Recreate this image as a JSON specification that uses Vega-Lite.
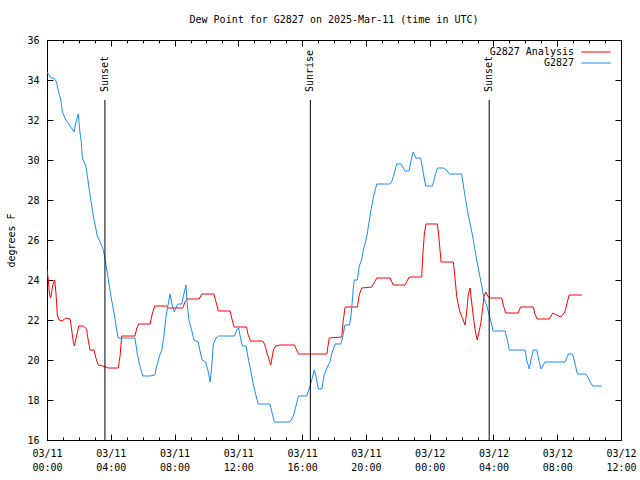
{
  "$schema": "https://vega.github.io/schema/vega-lite/v6.json",
  "width": 574,
  "height": 400,
  "autosize": {"type": "none"},
  "padding": {"left": 47, "top": 40, "right": 19, "bottom": 40},
  "background": "white",
  "config": {
    "font": "DejaVu Sans Mono",
    "view": {"stroke": "black", "strokeWidth": 1},
    "axis": {"labelFont": "DejaVu Sans Mono", "titleFont": "DejaVu Sans Mono", "labelFontSize": 10, "titleFontSize": 10, "titleFontWeight": "normal", "labelColor": "black", "titleColor": "black", "tickColor": "black", "grid": false, "domain": false},
    "legend": {"labelFont": "DejaVu Sans Mono", "labelFontSize": 10, "labelColor": "black"}
  },
  "title": {"text": "Dew Point for G2827 on 2025-Mar-11 (time in UTC)", "fontSize": 10, "fontWeight": "normal", "font": "DejaVu Sans Mono", "color": "black", "offset": 10},
  "data": {"values": [
      {"series": "G2827 Analysis", "time": "2025-03-11T00:00:00Z", "value": 24.5},
      {"series": "G2827 Analysis", "time": "2025-03-11T00:05:00Z", "value": 24.0},
      {"series": "G2827 Analysis", "time": "2025-03-11T00:09:00Z", "value": 23.3},
      {"series": "G2827 Analysis", "time": "2025-03-11T00:14:00Z", "value": 23.1},
      {"series": "G2827 Analysis", "time": "2025-03-11T00:21:00Z", "value": 23.7},
      {"series": "G2827 Analysis", "time": "2025-03-11T00:29:00Z", "value": 24.0},
      {"series": "G2827 Analysis", "time": "2025-03-11T00:34:00Z", "value": 23.3},
      {"series": "G2827 Analysis", "time": "2025-03-11T00:39:00Z", "value": 22.25},
      {"series": "G2827 Analysis", "time": "2025-03-11T00:46:00Z", "value": 22.0},
      {"series": "G2827 Analysis", "time": "2025-03-11T00:56:00Z", "value": 21.95},
      {"series": "G2827 Analysis", "time": "2025-03-11T01:11:00Z", "value": 22.1},
      {"series": "G2827 Analysis", "time": "2025-03-11T01:27:00Z", "value": 22.05},
      {"series": "G2827 Analysis", "time": "2025-03-11T01:33:00Z", "value": 21.5},
      {"series": "G2827 Analysis", "time": "2025-03-11T01:39:00Z", "value": 20.9},
      {"series": "G2827 Analysis", "time": "2025-03-11T01:43:00Z", "value": 20.7},
      {"series": "G2827 Analysis", "time": "2025-03-11T01:52:00Z", "value": 21.25},
      {"series": "G2827 Analysis", "time": "2025-03-11T02:00:00Z", "value": 21.7},
      {"series": "G2827 Analysis", "time": "2025-03-11T02:17:00Z", "value": 21.7},
      {"series": "G2827 Analysis", "time": "2025-03-11T02:29:00Z", "value": 21.55},
      {"series": "G2827 Analysis", "time": "2025-03-11T02:35:00Z", "value": 21.0},
      {"series": "G2827 Analysis", "time": "2025-03-11T02:42:00Z", "value": 20.5},
      {"series": "G2827 Analysis", "time": "2025-03-11T02:57:00Z", "value": 20.5},
      {"series": "G2827 Analysis", "time": "2025-03-11T03:04:00Z", "value": 20.1},
      {"series": "G2827 Analysis", "time": "2025-03-11T03:13:00Z", "value": 19.75},
      {"series": "G2827 Analysis", "time": "2025-03-11T03:30:00Z", "value": 19.7},
      {"series": "G2827 Analysis", "time": "2025-03-11T03:51:00Z", "value": 19.6},
      {"series": "G2827 Analysis", "time": "2025-03-11T04:28:00Z", "value": 19.6},
      {"series": "G2827 Analysis", "time": "2025-03-11T04:35:00Z", "value": 20.2},
      {"series": "G2827 Analysis", "time": "2025-03-11T04:41:00Z", "value": 21.2},
      {"series": "G2827 Analysis", "time": "2025-03-11T05:31:00Z", "value": 21.2},
      {"series": "G2827 Analysis", "time": "2025-03-11T05:38:00Z", "value": 21.6},
      {"series": "G2827 Analysis", "time": "2025-03-11T05:45:00Z", "value": 21.8},
      {"series": "G2827 Analysis", "time": "2025-03-11T06:28:00Z", "value": 21.8},
      {"series": "G2827 Analysis", "time": "2025-03-11T06:36:00Z", "value": 22.3},
      {"series": "G2827 Analysis", "time": "2025-03-11T06:45:00Z", "value": 22.7},
      {"series": "G2827 Analysis", "time": "2025-03-11T07:30:00Z", "value": 22.7},
      {"series": "G2827 Analysis", "time": "2025-03-11T07:36:00Z", "value": 22.6},
      {"series": "G2827 Analysis", "time": "2025-03-11T08:31:00Z", "value": 22.6},
      {"series": "G2827 Analysis", "time": "2025-03-11T08:39:00Z", "value": 22.9},
      {"series": "G2827 Analysis", "time": "2025-03-11T08:48:00Z", "value": 23.05},
      {"series": "G2827 Analysis", "time": "2025-03-11T09:33:00Z", "value": 23.05},
      {"series": "G2827 Analysis", "time": "2025-03-11T09:42:00Z", "value": 23.3},
      {"series": "G2827 Analysis", "time": "2025-03-11T10:28:00Z", "value": 23.3},
      {"series": "G2827 Analysis", "time": "2025-03-11T10:36:00Z", "value": 22.9},
      {"series": "G2827 Analysis", "time": "2025-03-11T10:45:00Z", "value": 22.45},
      {"series": "G2827 Analysis", "time": "2025-03-11T11:29:00Z", "value": 22.45},
      {"series": "G2827 Analysis", "time": "2025-03-11T11:35:00Z", "value": 22.1},
      {"series": "G2827 Analysis", "time": "2025-03-11T11:44:00Z", "value": 21.65},
      {"series": "G2827 Analysis", "time": "2025-03-11T12:31:00Z", "value": 21.65},
      {"series": "G2827 Analysis", "time": "2025-03-11T12:37:00Z", "value": 21.25},
      {"series": "G2827 Analysis", "time": "2025-03-11T12:46:00Z", "value": 20.95},
      {"series": "G2827 Analysis", "time": "2025-03-11T13:32:00Z", "value": 20.95},
      {"series": "G2827 Analysis", "time": "2025-03-11T13:40:00Z", "value": 20.75},
      {"series": "G2827 Analysis", "time": "2025-03-11T13:49:00Z", "value": 20.3},
      {"series": "G2827 Analysis", "time": "2025-03-11T14:02:00Z", "value": 19.75},
      {"series": "G2827 Analysis", "time": "2025-03-11T14:12:00Z", "value": 20.5},
      {"series": "G2827 Analysis", "time": "2025-03-11T14:21:00Z", "value": 20.7},
      {"series": "G2827 Analysis", "time": "2025-03-11T14:37:00Z", "value": 20.75},
      {"series": "G2827 Analysis", "time": "2025-03-11T15:31:00Z", "value": 20.75},
      {"series": "G2827 Analysis", "time": "2025-03-11T15:46:00Z", "value": 20.3},
      {"series": "G2827 Analysis", "time": "2025-03-11T17:33:00Z", "value": 20.3},
      {"series": "G2827 Analysis", "time": "2025-03-11T17:42:00Z", "value": 21.1},
      {"series": "G2827 Analysis", "time": "2025-03-11T18:29:00Z", "value": 21.15},
      {"series": "G2827 Analysis", "time": "2025-03-11T18:35:00Z", "value": 22.0},
      {"series": "G2827 Analysis", "time": "2025-03-11T18:42:00Z", "value": 22.65},
      {"series": "G2827 Analysis", "time": "2025-03-11T19:28:00Z", "value": 22.65},
      {"series": "G2827 Analysis", "time": "2025-03-11T19:35:00Z", "value": 23.25},
      {"series": "G2827 Analysis", "time": "2025-03-11T19:44:00Z", "value": 23.6},
      {"series": "G2827 Analysis", "time": "2025-03-11T20:22:00Z", "value": 23.65},
      {"series": "G2827 Analysis", "time": "2025-03-11T20:41:00Z", "value": 24.1},
      {"series": "G2827 Analysis", "time": "2025-03-11T21:31:00Z", "value": 24.1},
      {"series": "G2827 Analysis", "time": "2025-03-11T21:43:00Z", "value": 23.75},
      {"series": "G2827 Analysis", "time": "2025-03-11T22:27:00Z", "value": 23.75},
      {"series": "G2827 Analysis", "time": "2025-03-11T22:43:00Z", "value": 24.15},
      {"series": "G2827 Analysis", "time": "2025-03-11T23:30:00Z", "value": 24.15},
      {"series": "G2827 Analysis", "time": "2025-03-11T23:34:00Z", "value": 25.2},
      {"series": "G2827 Analysis", "time": "2025-03-11T23:40:00Z", "value": 26.3},
      {"series": "G2827 Analysis", "time": "2025-03-11T23:46:00Z", "value": 26.8},
      {"series": "G2827 Analysis", "time": "2025-03-12T00:29:00Z", "value": 26.8},
      {"series": "G2827 Analysis", "time": "2025-03-12T00:35:00Z", "value": 26.1},
      {"series": "G2827 Analysis", "time": "2025-03-12T00:43:00Z", "value": 24.9},
      {"series": "G2827 Analysis", "time": "2025-03-12T01:29:00Z", "value": 24.9},
      {"series": "G2827 Analysis", "time": "2025-03-12T01:35:00Z", "value": 24.15},
      {"series": "G2827 Analysis", "time": "2025-03-12T01:42:00Z", "value": 23.15},
      {"series": "G2827 Analysis", "time": "2025-03-12T01:48:00Z", "value": 22.75},
      {"series": "G2827 Analysis", "time": "2025-03-12T01:54:00Z", "value": 22.4},
      {"series": "G2827 Analysis", "time": "2025-03-12T02:03:00Z", "value": 22.1},
      {"series": "G2827 Analysis", "time": "2025-03-12T02:13:00Z", "value": 21.75},
      {"series": "G2827 Analysis", "time": "2025-03-12T02:19:00Z", "value": 22.35},
      {"series": "G2827 Analysis", "time": "2025-03-12T02:25:00Z", "value": 23.25},
      {"series": "G2827 Analysis", "time": "2025-03-12T02:32:00Z", "value": 23.6},
      {"series": "G2827 Analysis", "time": "2025-03-12T02:38:00Z", "value": 22.9},
      {"series": "G2827 Analysis", "time": "2025-03-12T02:44:00Z", "value": 22.2},
      {"series": "G2827 Analysis", "time": "2025-03-12T02:51:00Z", "value": 21.5},
      {"series": "G2827 Analysis", "time": "2025-03-12T02:59:00Z", "value": 21.0},
      {"series": "G2827 Analysis", "time": "2025-03-12T03:07:00Z", "value": 21.5},
      {"series": "G2827 Analysis", "time": "2025-03-12T03:12:00Z", "value": 21.8},
      {"series": "G2827 Analysis", "time": "2025-03-12T03:20:00Z", "value": 22.65},
      {"series": "G2827 Analysis", "time": "2025-03-12T03:24:00Z", "value": 23.15},
      {"series": "G2827 Analysis", "time": "2025-03-12T03:31:00Z", "value": 23.4},
      {"series": "G2827 Analysis", "time": "2025-03-12T03:41:00Z", "value": 23.15},
      {"series": "G2827 Analysis", "time": "2025-03-12T03:47:00Z", "value": 23.1},
      {"series": "G2827 Analysis", "time": "2025-03-12T04:31:00Z", "value": 23.1},
      {"series": "G2827 Analysis", "time": "2025-03-12T04:37:00Z", "value": 22.75},
      {"series": "G2827 Analysis", "time": "2025-03-12T04:46:00Z", "value": 22.35},
      {"series": "G2827 Analysis", "time": "2025-03-12T05:33:00Z", "value": 22.35},
      {"series": "G2827 Analysis", "time": "2025-03-12T05:42:00Z", "value": 22.65},
      {"series": "G2827 Analysis", "time": "2025-03-12T06:30:00Z", "value": 22.65},
      {"series": "G2827 Analysis", "time": "2025-03-12T06:36:00Z", "value": 22.3},
      {"series": "G2827 Analysis", "time": "2025-03-12T06:45:00Z", "value": 22.05},
      {"series": "G2827 Analysis", "time": "2025-03-12T07:30:00Z", "value": 22.05},
      {"series": "G2827 Analysis", "time": "2025-03-12T07:43:00Z", "value": 22.35},
      {"series": "G2827 Analysis", "time": "2025-03-12T07:58:00Z", "value": 22.25},
      {"series": "G2827 Analysis", "time": "2025-03-12T08:14:00Z", "value": 22.15},
      {"series": "G2827 Analysis", "time": "2025-03-12T08:29:00Z", "value": 22.4},
      {"series": "G2827 Analysis", "time": "2025-03-12T08:38:00Z", "value": 22.9},
      {"series": "G2827 Analysis", "time": "2025-03-12T08:45:00Z", "value": 23.25},
      {"series": "G2827 Analysis", "time": "2025-03-12T09:32:00Z", "value": 23.25},
      {"series": "G2827", "time": "2025-03-11T00:00:00Z", "value": 34.4},
      {"series": "G2827", "time": "2025-03-11T00:15:00Z", "value": 34.1},
      {"series": "G2827", "time": "2025-03-11T00:26:00Z", "value": 34.1},
      {"series": "G2827", "time": "2025-03-11T00:36:00Z", "value": 33.9},
      {"series": "G2827", "time": "2025-03-11T00:42:00Z", "value": 33.5},
      {"series": "G2827", "time": "2025-03-11T00:52:00Z", "value": 33.0},
      {"series": "G2827", "time": "2025-03-11T00:58:00Z", "value": 32.4},
      {"series": "G2827", "time": "2025-03-11T01:11:00Z", "value": 32.0},
      {"series": "G2827", "time": "2025-03-11T01:27:00Z", "value": 31.7},
      {"series": "G2827", "time": "2025-03-11T01:42:00Z", "value": 31.4},
      {"series": "G2827", "time": "2025-03-11T01:49:00Z", "value": 31.9},
      {"series": "G2827", "time": "2025-03-11T01:58:00Z", "value": 32.3},
      {"series": "G2827", "time": "2025-03-11T02:03:00Z", "value": 31.5},
      {"series": "G2827", "time": "2025-03-11T02:09:00Z", "value": 30.9},
      {"series": "G2827", "time": "2025-03-11T02:13:00Z", "value": 30.1},
      {"series": "G2827", "time": "2025-03-11T02:26:00Z", "value": 29.7},
      {"series": "G2827", "time": "2025-03-11T02:33:00Z", "value": 29.1},
      {"series": "G2827", "time": "2025-03-11T02:39:00Z", "value": 28.5},
      {"series": "G2827", "time": "2025-03-11T02:48:00Z", "value": 27.75},
      {"series": "G2827", "time": "2025-03-11T02:54:00Z", "value": 27.2},
      {"series": "G2827", "time": "2025-03-11T03:02:00Z", "value": 26.7},
      {"series": "G2827", "time": "2025-03-11T03:09:00Z", "value": 26.2},
      {"series": "G2827", "time": "2025-03-11T03:17:00Z", "value": 26.0},
      {"series": "G2827", "time": "2025-03-11T03:32:00Z", "value": 25.5},
      {"series": "G2827", "time": "2025-03-11T03:39:00Z", "value": 25.0},
      {"series": "G2827", "time": "2025-03-11T03:45:00Z", "value": 24.5},
      {"series": "G2827", "time": "2025-03-11T03:51:00Z", "value": 24.0},
      {"series": "G2827", "time": "2025-03-11T03:57:00Z", "value": 23.5},
      {"series": "G2827", "time": "2025-03-11T04:03:00Z", "value": 23.0},
      {"series": "G2827", "time": "2025-03-11T04:12:00Z", "value": 22.4},
      {"series": "G2827", "time": "2025-03-11T04:20:00Z", "value": 21.7},
      {"series": "G2827", "time": "2025-03-11T04:28:00Z", "value": 21.1},
      {"series": "G2827", "time": "2025-03-11T05:31:00Z", "value": 21.1},
      {"series": "G2827", "time": "2025-03-11T05:40:00Z", "value": 20.3},
      {"series": "G2827", "time": "2025-03-11T05:50:00Z", "value": 19.7},
      {"series": "G2827", "time": "2025-03-11T06:00:00Z", "value": 19.2},
      {"series": "G2827", "time": "2025-03-11T06:28:00Z", "value": 19.2},
      {"series": "G2827", "time": "2025-03-11T06:46:00Z", "value": 19.25},
      {"series": "G2827", "time": "2025-03-11T06:53:00Z", "value": 19.7},
      {"series": "G2827", "time": "2025-03-11T07:03:00Z", "value": 20.2},
      {"series": "G2827", "time": "2025-03-11T07:12:00Z", "value": 20.5},
      {"series": "G2827", "time": "2025-03-11T07:20:00Z", "value": 21.2},
      {"series": "G2827", "time": "2025-03-11T07:28:00Z", "value": 22.2},
      {"series": "G2827", "time": "2025-03-11T07:36:00Z", "value": 22.8},
      {"series": "G2827", "time": "2025-03-11T07:43:00Z", "value": 23.3},
      {"series": "G2827", "time": "2025-03-11T07:50:00Z", "value": 22.8},
      {"series": "G2827", "time": "2025-03-11T07:59:00Z", "value": 22.4},
      {"series": "G2827", "time": "2025-03-11T08:08:00Z", "value": 22.7},
      {"series": "G2827", "time": "2025-03-11T08:14:00Z", "value": 22.8},
      {"series": "G2827", "time": "2025-03-11T08:27:00Z", "value": 22.8},
      {"series": "G2827", "time": "2025-03-11T08:35:00Z", "value": 23.3},
      {"series": "G2827", "time": "2025-03-11T08:43:00Z", "value": 23.75},
      {"series": "G2827", "time": "2025-03-11T08:47:00Z", "value": 22.9},
      {"series": "G2827", "time": "2025-03-11T08:54:00Z", "value": 22.0},
      {"series": "G2827", "time": "2025-03-11T09:04:00Z", "value": 21.5},
      {"series": "G2827", "time": "2025-03-11T09:13:00Z", "value": 21.0},
      {"series": "G2827", "time": "2025-03-11T09:29:00Z", "value": 20.9},
      {"series": "G2827", "time": "2025-03-11T09:38:00Z", "value": 20.3},
      {"series": "G2827", "time": "2025-03-11T09:44:00Z", "value": 20.0},
      {"series": "G2827", "time": "2025-03-11T09:57:00Z", "value": 19.9},
      {"series": "G2827", "time": "2025-03-11T10:07:00Z", "value": 19.4},
      {"series": "G2827", "time": "2025-03-11T10:14:00Z", "value": 18.9},
      {"series": "G2827", "time": "2025-03-11T10:20:00Z", "value": 19.7},
      {"series": "G2827", "time": "2025-03-11T10:26:00Z", "value": 20.8},
      {"series": "G2827", "time": "2025-03-11T10:36:00Z", "value": 21.1},
      {"series": "G2827", "time": "2025-03-11T10:45:00Z", "value": 21.2},
      {"series": "G2827", "time": "2025-03-11T11:45:00Z", "value": 21.2},
      {"series": "G2827", "time": "2025-03-11T11:54:00Z", "value": 21.5},
      {"series": "G2827", "time": "2025-03-11T12:01:00Z", "value": 21.6},
      {"series": "G2827", "time": "2025-03-11T12:06:00Z", "value": 21.25},
      {"series": "G2827", "time": "2025-03-11T12:15:00Z", "value": 20.7},
      {"series": "G2827", "time": "2025-03-11T12:29:00Z", "value": 20.7},
      {"series": "G2827", "time": "2025-03-11T12:37:00Z", "value": 20.1},
      {"series": "G2827", "time": "2025-03-11T12:46:00Z", "value": 19.5},
      {"series": "G2827", "time": "2025-03-11T12:56:00Z", "value": 18.8},
      {"series": "G2827", "time": "2025-03-11T13:06:00Z", "value": 18.25},
      {"series": "G2827", "time": "2025-03-11T13:15:00Z", "value": 17.8},
      {"series": "G2827", "time": "2025-03-11T13:59:00Z", "value": 17.8},
      {"series": "G2827", "time": "2025-03-11T14:08:00Z", "value": 17.3},
      {"series": "G2827", "time": "2025-03-11T14:15:00Z", "value": 16.9},
      {"series": "G2827", "time": "2025-03-11T15:14:00Z", "value": 16.9},
      {"series": "G2827", "time": "2025-03-11T15:27:00Z", "value": 17.2},
      {"series": "G2827", "time": "2025-03-11T15:37:00Z", "value": 17.7},
      {"series": "G2827", "time": "2025-03-11T15:46:00Z", "value": 18.2},
      {"series": "G2827", "time": "2025-03-11T16:17:00Z", "value": 18.2},
      {"series": "G2827", "time": "2025-03-11T16:30:00Z", "value": 18.7},
      {"series": "G2827", "time": "2025-03-11T16:40:00Z", "value": 19.2},
      {"series": "G2827", "time": "2025-03-11T16:46:00Z", "value": 19.5},
      {"series": "G2827", "time": "2025-03-11T16:55:00Z", "value": 19.0},
      {"series": "G2827", "time": "2025-03-11T17:01:00Z", "value": 18.55},
      {"series": "G2827", "time": "2025-03-11T17:14:00Z", "value": 18.55},
      {"series": "G2827", "time": "2025-03-11T17:22:00Z", "value": 19.2},
      {"series": "G2827", "time": "2025-03-11T17:33:00Z", "value": 19.6},
      {"series": "G2827", "time": "2025-03-11T17:45:00Z", "value": 19.9},
      {"series": "G2827", "time": "2025-03-11T17:51:00Z", "value": 20.3},
      {"series": "G2827", "time": "2025-03-11T18:04:00Z", "value": 20.8},
      {"series": "G2827", "time": "2025-03-11T18:26:00Z", "value": 20.8},
      {"series": "G2827", "time": "2025-03-11T18:35:00Z", "value": 21.3},
      {"series": "G2827", "time": "2025-03-11T18:41:00Z", "value": 21.75},
      {"series": "G2827", "time": "2025-03-11T18:58:00Z", "value": 21.75},
      {"series": "G2827", "time": "2025-03-11T19:03:00Z", "value": 22.1},
      {"series": "G2827", "time": "2025-03-11T19:08:00Z", "value": 22.8},
      {"series": "G2827", "time": "2025-03-11T19:12:00Z", "value": 23.5},
      {"series": "G2827", "time": "2025-03-11T19:16:00Z", "value": 24.0},
      {"series": "G2827", "time": "2025-03-11T19:28:00Z", "value": 24.0},
      {"series": "G2827", "time": "2025-03-11T19:35:00Z", "value": 24.7},
      {"series": "G2827", "time": "2025-03-11T19:44:00Z", "value": 25.0},
      {"series": "G2827", "time": "2025-03-11T19:50:00Z", "value": 25.5},
      {"series": "G2827", "time": "2025-03-11T19:59:00Z", "value": 25.9},
      {"series": "G2827", "time": "2025-03-11T20:05:00Z", "value": 26.3},
      {"series": "G2827", "time": "2025-03-11T20:13:00Z", "value": 27.0},
      {"series": "G2827", "time": "2025-03-11T20:22:00Z", "value": 27.7},
      {"series": "G2827", "time": "2025-03-11T20:30:00Z", "value": 28.25},
      {"series": "G2827", "time": "2025-03-11T20:41:00Z", "value": 28.8},
      {"series": "G2827", "time": "2025-03-11T21:31:00Z", "value": 28.8},
      {"series": "G2827", "time": "2025-03-11T21:37:00Z", "value": 28.9},
      {"series": "G2827", "time": "2025-03-11T21:46:00Z", "value": 29.3},
      {"series": "G2827", "time": "2025-03-11T21:56:00Z", "value": 29.8},
      {"series": "G2827", "time": "2025-03-11T22:12:00Z", "value": 29.8},
      {"series": "G2827", "time": "2025-03-11T22:27:00Z", "value": 29.45},
      {"series": "G2827", "time": "2025-03-11T22:42:00Z", "value": 29.45},
      {"series": "G2827", "time": "2025-03-11T22:52:00Z", "value": 30.1},
      {"series": "G2827", "time": "2025-03-11T22:58:00Z", "value": 30.4},
      {"series": "G2827", "time": "2025-03-11T23:08:00Z", "value": 30.1},
      {"series": "G2827", "time": "2025-03-11T23:26:00Z", "value": 30.1},
      {"series": "G2827", "time": "2025-03-11T23:34:00Z", "value": 29.5},
      {"series": "G2827", "time": "2025-03-11T23:45:00Z", "value": 28.7},
      {"series": "G2827", "time": "2025-03-12T00:11:00Z", "value": 28.7},
      {"series": "G2827", "time": "2025-03-12T00:20:00Z", "value": 29.2},
      {"series": "G2827", "time": "2025-03-12T00:29:00Z", "value": 29.6},
      {"series": "G2827", "time": "2025-03-12T00:51:00Z", "value": 29.6},
      {"series": "G2827", "time": "2025-03-12T01:04:00Z", "value": 29.5},
      {"series": "G2827", "time": "2025-03-12T01:14:00Z", "value": 29.3},
      {"series": "G2827", "time": "2025-03-12T02:00:00Z", "value": 29.3},
      {"series": "G2827", "time": "2025-03-12T02:06:00Z", "value": 28.8},
      {"series": "G2827", "time": "2025-03-12T02:13:00Z", "value": 28.2},
      {"series": "G2827", "time": "2025-03-12T02:22:00Z", "value": 27.5},
      {"series": "G2827", "time": "2025-03-12T02:32:00Z", "value": 26.8},
      {"series": "G2827", "time": "2025-03-12T02:42:00Z", "value": 26.2},
      {"series": "G2827", "time": "2025-03-12T02:48:00Z", "value": 25.7},
      {"series": "G2827", "time": "2025-03-12T02:57:00Z", "value": 25.0},
      {"series": "G2827", "time": "2025-03-12T03:07:00Z", "value": 24.3},
      {"series": "G2827", "time": "2025-03-12T03:16:00Z", "value": 23.7},
      {"series": "G2827", "time": "2025-03-12T03:24:00Z", "value": 23.1},
      {"series": "G2827", "time": "2025-03-12T03:35:00Z", "value": 22.7},
      {"series": "G2827", "time": "2025-03-12T03:44:00Z", "value": 22.25},
      {"series": "G2827", "time": "2025-03-12T03:53:00Z", "value": 21.8},
      {"series": "G2827", "time": "2025-03-12T03:59:00Z", "value": 21.45},
      {"series": "G2827", "time": "2025-03-12T04:44:00Z", "value": 21.45},
      {"series": "G2827", "time": "2025-03-12T04:52:00Z", "value": 21.0},
      {"series": "G2827", "time": "2025-03-12T05:00:00Z", "value": 20.5},
      {"series": "G2827", "time": "2025-03-12T05:59:00Z", "value": 20.5},
      {"series": "G2827", "time": "2025-03-12T06:05:00Z", "value": 20.0},
      {"series": "G2827", "time": "2025-03-12T06:15:00Z", "value": 19.55},
      {"series": "G2827", "time": "2025-03-12T06:21:00Z", "value": 20.0},
      {"series": "G2827", "time": "2025-03-12T06:30:00Z", "value": 20.5},
      {"series": "G2827", "time": "2025-03-12T06:43:00Z", "value": 20.5},
      {"series": "G2827", "time": "2025-03-12T06:51:00Z", "value": 20.0},
      {"series": "G2827", "time": "2025-03-12T06:59:00Z", "value": 19.55},
      {"series": "G2827", "time": "2025-03-12T07:14:00Z", "value": 19.9},
      {"series": "G2827", "time": "2025-03-12T08:29:00Z", "value": 19.9},
      {"series": "G2827", "time": "2025-03-12T08:42:00Z", "value": 20.3},
      {"series": "G2827", "time": "2025-03-12T08:58:00Z", "value": 20.3},
      {"series": "G2827", "time": "2025-03-12T09:07:00Z", "value": 19.8},
      {"series": "G2827", "time": "2025-03-12T09:16:00Z", "value": 19.3},
      {"series": "G2827", "time": "2025-03-12T09:47:00Z", "value": 19.3},
      {"series": "G2827", "time": "2025-03-12T09:57:00Z", "value": 19.1},
      {"series": "G2827", "time": "2025-03-12T10:06:00Z", "value": 18.85},
      {"series": "G2827", "time": "2025-03-12T10:14:00Z", "value": 18.7},
      {"series": "G2827", "time": "2025-03-12T10:47:00Z", "value": 18.7}
  ]},
  "resolve": {"axis": {"x": "independent", "y": "independent"}},
  "layer": [
    {
      "transform": [{"filter": "datum.series === 'G2827 Analysis'"}],
      "mark": {"type": "line", "strokeWidth": 1, "clip": true},
      "encoding": {
        "x": {"field": "time", "type": "temporal",
              "scale": {"type": "utc", "domain": [{"year": 2025, "month": 3, "date": 11, "hours": 0, "utc": true}, {"year": 2025, "month": 3, "date": 12, "hours": 12, "utc": true}]},
              "axis": {"orient": "bottom", "title": null, "tickSize": -6, "labelPadding": 14, "labelLineHeight": 14, "labelFlush": false, "labelOverlap": false,
                       "values": [
                         {"year": 2025, "month": 3, "date": 11, "hours": 0, "utc": true},
                         {"year": 2025, "month": 3, "date": 11, "hours": 4, "utc": true},
                         {"year": 2025, "month": 3, "date": 11, "hours": 8, "utc": true},
                         {"year": 2025, "month": 3, "date": 11, "hours": 12, "utc": true},
                         {"year": 2025, "month": 3, "date": 11, "hours": 16, "utc": true},
                         {"year": 2025, "month": 3, "date": 11, "hours": 20, "utc": true},
                         {"year": 2025, "month": 3, "date": 12, "hours": 0, "utc": true},
                         {"year": 2025, "month": 3, "date": 12, "hours": 4, "utc": true},
                         {"year": 2025, "month": 3, "date": 12, "hours": 8, "utc": true},
                         {"year": 2025, "month": 3, "date": 12, "hours": 12, "utc": true}],
                       "labelExpr": "[utcFormat(datum.value, '%m/%d'), utcFormat(datum.value, '%H:%M')]"}},
        "y": {"field": "value", "type": "quantitative",
              "scale": {"domain": [16, 36], "nice": false, "zero": false},
              "axis": {"orient": "left", "title": "degrees F", "values": [16, 18, 20, 22, 24, 26, 28, 30, 32, 34, 36], "tickSize": -6, "labelPadding": 14, "labelFlush": false, "titleX": -36, "titleBaseline": "middle"}},
        "color": {"field": "series", "type": "nominal",
                  "scale": {"domain": ["G2827 Analysis", "G2827"], "range": ["#ff0000", "#1a8cff"]},
                  "legend": {"title": null, "orient": "none", "legendX": 544, "legendY": 7, "symbolType": "M-4.2,0H4.2", "symbolSize": 49, "symbolStrokeWidth": 1, "symbolFillColor": "transparent", "labelAlign": "right", "labelOffset": -27, "rowPadding": 1, "padding": 0}}
      }
    },
    {
      "transform": [{"filter": "datum.series === 'G2827'"}],
      "mark": {"type": "line", "strokeWidth": 1, "clip": true},
      "encoding": {
        "x": {"field": "time", "type": "temporal",
              "axis": {"orient": "top", "title": null, "labels": false, "tickSize": -6,
                       "values": [
                         {"year": 2025, "month": 3, "date": 11, "hours": 0, "utc": true},
                         {"year": 2025, "month": 3, "date": 11, "hours": 4, "utc": true},
                         {"year": 2025, "month": 3, "date": 11, "hours": 8, "utc": true},
                         {"year": 2025, "month": 3, "date": 11, "hours": 12, "utc": true},
                         {"year": 2025, "month": 3, "date": 11, "hours": 16, "utc": true},
                         {"year": 2025, "month": 3, "date": 11, "hours": 20, "utc": true},
                         {"year": 2025, "month": 3, "date": 12, "hours": 0, "utc": true},
                         {"year": 2025, "month": 3, "date": 12, "hours": 4, "utc": true},
                         {"year": 2025, "month": 3, "date": 12, "hours": 8, "utc": true},
                         {"year": 2025, "month": 3, "date": 12, "hours": 12, "utc": true}]}},
        "y": {"field": "value", "type": "quantitative",
              "axis": {"orient": "right", "title": null, "labels": false, "values": [16, 18, 20, 22, 24, 26, 28, 30, 32, 34, 36], "tickSize": -6}},
        "color": {"field": "series", "type": "nominal"}
      }
    },
    {
      "data": {"values": [
        {"time": "2025-03-11T03:38:00Z", "label": "Sunset"},
        {"time": "2025-03-11T16:31:00Z", "label": "Sunrise"},
        {"time": "2025-03-12T03:44:00Z", "label": "Sunset"}
      ]},
      "mark": {"type": "rule", "color": "black", "strokeWidth": 1},
      "encoding": {
        "x": {"field": "time", "type": "temporal",
              "axis": {"orient": "bottom", "title": null, "labels": false, "tickCount": 36, "tickSize": -3}},
        "y": {"datum": 16, "type": "quantitative", "axis": null},
        "y2": {"datum": 33.0}
      }
    },
    {
      "data": {"values": [
        {"time": "2025-03-11T03:38:00Z", "label": "Sunset"},
        {"time": "2025-03-11T16:31:00Z", "label": "Sunrise"},
        {"time": "2025-03-12T03:44:00Z", "label": "Sunset"}
      ]},
      "mark": {"type": "text", "angle": 270, "align": "left", "baseline": "middle", "fontSize": 10, "font": "DejaVu Sans Mono", "color": "black"},
      "encoding": {
        "x": {"field": "time", "type": "temporal",
              "axis": {"orient": "top", "title": null, "labels": false, "tickCount": 36, "tickSize": -3}},
        "y": {"datum": 33.4, "type": "quantitative", "axis": null},
        "text": {"field": "label"}
      }
    }
  ]
}
